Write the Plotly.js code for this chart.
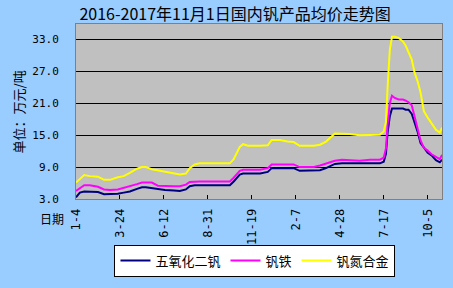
<!DOCTYPE html>
<html>
<head>
<meta charset="utf-8">
<script src="https://cdn.plot.ly/plotly-3.0.1.min.js"></script>
<style>html,body{margin:0;padding:0;background:#99CCFF;}#chart{width:453px;height:288px;}</style>
</head>
<body>
<div id="chart"></div>
<script>
const dates = ['2016-01-04','2016-01-11','2016-01-19','2016-01-29','2016-02-13','2016-02-24','2016-03-06','2016-03-20','2016-03-31','2016-04-11','2016-04-24','2016-05-03','2016-05-10','2016-05-21','2016-06-01','2016-06-14','2016-06-30','2016-07-11','2016-07-22','2016-07-29','2016-08-07','2016-08-16','2016-09-13','2016-10-10','2016-10-17','2016-10-28','2016-11-03','2016-11-12','2016-12-04','2016-12-18','2016-12-25','2017-01-09','2017-01-23','2017-02-03','2017-02-14','2017-03-12','2017-03-23','2017-04-03','2017-04-19','2017-05-02','2017-05-16','2017-06-03','2017-06-22','2017-07-10','2017-07-17','2017-07-21','2017-07-24','2017-07-28','2017-08-01','2017-08-06','2017-08-13','2017-08-21','2017-08-26','2017-08-31','2017-09-06','2017-09-11','2017-09-17','2017-09-22','2017-09-28','2017-10-05','2017-10-12','2017-10-20','2017-10-27','2017-10-31'];
const v2o5 = [3.3,4.2,4.4,4.4,4.3,3.9,3.9,4.0,4.2,4.4,4.9,5.2,5.2,5.0,4.8,4.7,4.6,4.5,4.8,5.4,5.6,5.6,5.6,5.6,6.3,7.6,7.8,7.8,7.8,8.1,8.8,8.8,8.8,8.8,8.3,8.3,8.4,8.8,9.6,9.7,9.7,9.7,9.7,9.7,10.0,11.5,15.5,18.5,20.0,20.0,20.0,20.0,19.8,19.8,19.0,17.5,15.5,13.5,12.6,11.7,11.2,10.3,9.9,10.4];
const feV = [4.5,5.0,5.6,5.6,5.3,4.8,4.7,4.8,5.1,5.3,5.8,6.1,6.1,6.1,5.5,5.4,5.4,5.4,5.7,6.2,6.3,6.3,6.3,6.3,7.0,8.3,8.5,8.5,8.5,8.8,9.5,9.5,9.5,9.5,9.0,9.0,9.3,9.7,10.2,10.4,10.3,10.2,10.4,10.4,10.8,12.5,17.0,21.0,22.4,22.0,21.7,21.7,21.5,21.2,20.6,18.5,16.5,14.0,12.6,12.1,11.4,11.0,10.5,11.3];
const vn = [6.1,6.8,7.5,7.3,7.2,6.6,6.6,7.1,7.3,7.9,8.7,9.0,9.0,8.6,8.4,8.2,7.9,7.6,7.8,8.8,9.5,9.7,9.7,9.7,10.5,12.8,13.3,13.0,13.0,13.1,14.1,14.1,13.8,13.7,13.0,13.0,13.2,13.8,15.3,15.3,15.2,15.0,15.0,15.1,15.7,17.5,24.0,31.0,33.5,33.5,33.3,32.6,31.8,30.6,29.2,26.8,25.0,23.0,19.5,18.3,17.2,16.0,15.5,16.4];
const seriesNames = ['五氧化二钒','钒铁','钒氮合金'];
const tickDates = ['2016-01-04','2016-03-24','2016-06-12','2016-08-31','2016-11-19','2017-02-07','2017-04-28','2017-07-17','2017-10-05'];
const tickText = ['1-4','3-24','6-12','8-31','11-19','2-7','4-28','7-17','10-5'];
const yTicks = [3,9,15,21,27,33];

const cjk = '"Noto Sans CJK SC", "Noto Sans", sans-serif';
const mono = '"DejaVu Sans Mono", "Liberation Mono", monospace';

const traces = [
  {x: dates, y: v2o5, name: seriesNames[0], mode: 'lines', line: {color: '#000080', width: 2}},
  {x: dates, y: feV, name: seriesNames[1], mode: 'lines', line: {color: '#FF00FF', width: 2}},
  {x: dates, y: vn, name: seriesNames[2], mode: 'lines', line: {color: '#FFFF00', width: 2}}
];

const layout = {
  width: 453, height: 288,
  paper_bgcolor: '#99CCFF', plot_bgcolor: '#C0C0C0',
  margin: {l: 76, r: 11, t: 24, b: 72},
  showlegend: true,
  title: {text: '2016-2017年11月1日国内钒产品均价走势图', font: {family: cjk, size: 16, color: '#000'},
          x: 0.519, xanchor: 'center', y: 0.951, yanchor: 'middle', yref: 'container'},
  xaxis: {type: 'date', range: ['2016-01-04','2017-10-31'], tickvals: tickDates, ticktext: tickText,
          tickangle: -90, showgrid: false, zeroline: false, showline: true, mirror: true, linecolor: '#808080', linewidth: 1,
          ticks: 'inside', ticklen: 4, tickcolor: '#000', tickfont: {family: mono, size: 12, color: '#000'},
          ticklabelstandoff: 4, fixedrange: true},
  yaxis: {range: [3, 35.9], tickvals: yTicks, tickformat: '.1f', showgrid: true, gridcolor: '#000', gridwidth: 1,
          zeroline: false, showline: true, mirror: true, linecolor: '#808080', linewidth: 1,
          ticks: '', tickfont: {family: mono, size: 11, color: '#000'}, ticklabelstandoff: 14, fixedrange: true},
  legend: {orientation: 'h', x: 0.489, xanchor: 'center', y: -0.26, yanchor: 'top',
           bgcolor: '#FFFFFF', bordercolor: '#000', borderwidth: 1, font: {family: cjk, size: 13, color: '#000'},
           itemwidth: 30, tracegroupgap: 0},
  annotations: [
    {text: '单位：万元/吨', textangle: -90, xref: 'paper', yref: 'paper', x: -0.156, y: 0.5,
     xanchor: 'center', yanchor: 'middle', showarrow: false, font: {family: cjk, size: 13, color: '#000'}},
    {text: '日期', xref: 'paper', yref: 'paper', x: -0.0656, y: -0.109, xanchor: 'center', yanchor: 'middle',
     showarrow: false, font: {family: cjk, size: 12, color: '#000'}}
  ]
};

Plotly.newPlot('chart', traces, layout, {displayModeBar: false, staticPlot: true});
</script>
</body>
</html>
